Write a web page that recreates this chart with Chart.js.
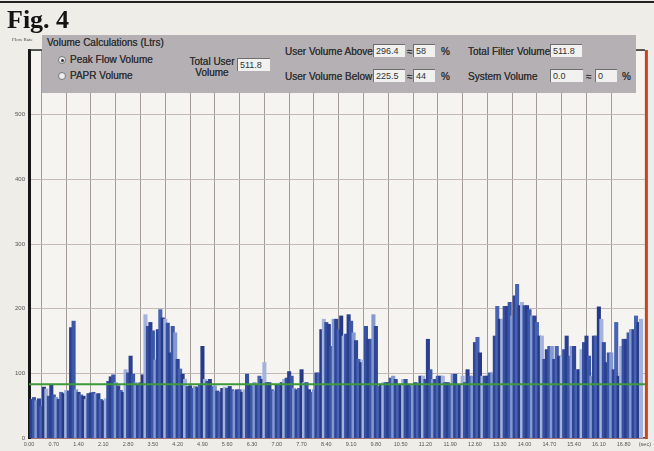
<!DOCTYPE html>
<html lang="en">
<head>
  <meta charset="UTF-8" />
  <title>Fig. 4</title>
  <script src="https://cdn.jsdelivr.net/npm/chart.js"></script>
  <style>
    html, body { margin: 0; padding: 0; }
    body {
      width: 654px;
      height: 451px;
      background: #eeede8;
      position: relative;
      overflow: hidden;
      font-family: 'Liberation Sans', Arial, sans-serif;
    }
    #wrap { position: absolute; left: 0; top: 0; width: 654px; height: 451px; }
    .topline { position: absolute; left: 0; top: 1px; width: 654px; height: 2px; background: #222; }
    .fig {
      position: absolute; left: 7px; top: 7px;
      font-family: 'Liberation Serif', 'DejaVu Serif', serif;
      font-weight: bold; font-size: 26px; color: #141414; line-height: 1;
    }
    .ylab {
      position: absolute; left: 12px; top: 37px;
      font-family: 'Liberation Serif', serif; font-size: 5px; color: #444;
    }
    .panel {
      position: absolute; left: 42px; top: 35px; width: 594px; height: 58px;
      background: #b4b0b3;
    }
    .panel .t {
      position: absolute; font-size: 10px; color: #333; white-space: nowrap; line-height: 10px;
      text-shadow: 0 0 0.4px #333;
    }
    .panel .box {
      position: absolute; height: 13px; background: #f1f1ef;
      border-top: 1px solid #6e6e6e; border-left: 1px solid #6e6e6e;
      font-size: 9px; line-height: 13px; color: #333; padding-left: 2px; box-sizing: border-box;
    }
    .radio {
      position: absolute; width: 6px; height: 6px; border-radius: 50%;
      background: #eee; border: 1px solid #777;
    }
    .radio.on::after {
      content: ''; position: absolute; left: 1.5px; top: 1.5px; width: 3px; height: 3px;
      border-radius: 50%; background: #333;
    }
  </style>
</head>
<body>
  <div id="wrap"><canvas id="flowChart"></canvas></div>
  <div class="topline"></div>
  <div class="fig">Fig. 4</div>
  <div class="ylab">Flow Rate</div>

  <div class="panel">
    <span class="t" style="left:5px; top:3px;">Volume Calculations (Ltrs)</span>
    <div class="radio on" style="left:16px; top:21px;"></div>
    <span class="t" style="left:28px; top:20px;">Peak Flow Volume</span>
    <div class="radio" style="left:16px; top:37px;"></div>
    <span class="t" style="left:28px; top:36px;">PAPR Volume</span>

    <span class="t" style="left:147px; top:21px; width:46px; text-align:center; line-height:11px; white-space:normal;">Total User Volume</span>
    <div class="box" style="left:195px; top:23px; width:33px;">511.8</div>

    <span class="t" style="left:243px; top:12px;">User Volume Above</span>
    <div class="box" style="left:331px; top:9px; width:32px;">296.4</div>
    <span class="t" style="left:365px; top:12px;">≈</span>
    <div class="box" style="left:371px; top:9px; width:22px;">58</div>
    <span class="t" style="left:399px; top:12px;">%</span>

    <span class="t" style="left:243px; top:37px;">User Volume Below</span>
    <div class="box" style="left:331px; top:34px; width:32px;">225.5</div>
    <span class="t" style="left:365px; top:37px;">≈</span>
    <div class="box" style="left:371px; top:34px; width:22px;">44</div>
    <span class="t" style="left:399px; top:37px;">%</span>

    <span class="t" style="left:426px; top:12px;">Total Filter Volume</span>
    <div class="box" style="left:508px; top:9px; width:32px;">511.8</div>

    <span class="t" style="left:426px; top:37px;">System Volume</span>
    <div class="box" style="left:508px; top:34px; width:33px;">0.0</div>
    <span class="t" style="left:544px; top:37px;">≈</span>
    <div class="box" style="left:553px; top:34px; width:22px;">0</div>
    <span class="t" style="left:580px; top:37px;">%</span>
  </div>

  <script>
    // flow rate per 0.07 s sample
    const flowRate = [
      59, 62, 57, 60,   48, 78, 75, 64,   82, 66, 62, 59,   70, 68, 73, 72,
      170, 180, 74, 70, 66, 64, 59, 68,   69, 70, 67, 68,   59, 57, 60, 87,
      94, 97, 85, 80,   73, 70, 105, 100, 126, 98, 85, 82,  85, 97, 190, 172,
      178, 165, 120, 167, 198, 185, 183, 177, 131, 172, 162, 121, 106, 98, 90, 79,
      80, 76, 79, 78,   82, 141, 90, 87,  90, 79, 80, 72,   70, 76, 78, 76,
      79, 74, 72, 74,   74, 70, 74, 98,   82, 80, 85, 82,   95, 90, 116, 85,
      85, 74, 72, 82,   82, 85, 90, 92,   102, 95, 76, 74,  76, 105, 85, 85,
      74, 70, 74, 100,  100, 167, 183, 178, 175, 141, 183, 183, 167, 188, 157, 160,
      190, 180, 162, 150, 121, 116, 120, 172, 152, 152, 190, 172, 79, 82, 85, 85,
      85, 92, 95, 90,   82, 82, 90, 90,   82, 80, 82, 85,   82, 95, 95, 90,
      152, 105, 90, 90, 95, 95, 95, 85,   85, 82, 98, 98,   82, 82, 95, 85,
      105, 95, 95, 147, 155, 131, 95, 95, 95, 100, 100, 157, 203, 183, 183, 203,
      203, 209, 188, 219, 237, 204, 209, 204, 204, 198, 188, 188, 178, 157, 157, 121,
      136, 141, 141, 121, 141, 126, 126, 136, 157, 126, 141, 141, 105, 105, 136, 147,
      157, 126, 95, 157, 157, 202, 183, 147, 116, 131, 131, 105, 178, 95, 141, 152,
      152, 162, 167, 167, 188, 178, 183
    ];
    const SAMPLE_SEC = 0.07;
    const sampleTimes = flowRate.map((_, i) => +(SAMPLE_SEC * (i + 1)).toFixed(2));

    const THRESHOLD = 83;      // green level line
    const X_MAX = 17.4;        // seconds shown
    const X_STEP = 0.7;
    const Y_MAX = 600;
    const Y_STEP = 100;

    const shades = ['#2b3f8e', '#3b58a8', '#8399cf', '#2f4597', '#4763b2', '#263a86', '#a3b3dc', '#3550a0'];

    const framePlugin = {
      id: 'frame',
      beforeDraw(chart) {
        const { ctx, chartArea: a } = chart;
        ctx.save();
        ctx.fillStyle = '#f5f4f0';
        ctx.fillRect(a.left, a.top, a.right - a.left, a.bottom - a.top);
        ctx.restore();
      },
      afterDraw(chart) {
        const { ctx, chartArea: a } = chart;
        ctx.save();
        ctx.strokeStyle = '#2a2a2a';
        ctx.lineWidth = 1.5;
        ctx.beginPath();
        ctx.moveTo(a.left, a.top);
        ctx.lineTo(a.right, a.top);
        ctx.stroke();
        ctx.strokeStyle = '#c9431f';
        ctx.lineWidth = 3;
        ctx.beginPath();
        ctx.moveTo(a.right + 1.5, a.top);
        ctx.lineTo(a.right + 1.5, a.bottom + 1);
        ctx.stroke();
        ctx.restore();
      }
    };

    new Chart(document.getElementById('flowChart'), {
      type: 'bar',
      data: {
        datasets: [
          {
            type: 'line',
            label: 'Threshold',
            data: [{ x: 0, y: THRESHOLD }, { x: X_MAX, y: THRESHOLD }],
            borderColor: '#3d9a3a',
            borderWidth: 2,
            pointRadius: 0,
            order: 0
          },
          {
            label: 'Flow Rate',
            data: flowRate.map((v, i) => ({ x: sampleTimes[i], y: v })),
            backgroundColor: (c) => shades[c.dataIndex % shades.length],
            borderWidth: 0,
            inflateAmount: 0.8,
            barPercentage: 1,
            categoryPercentage: 1,
            order: 1
          }
        ]
      },
      options: {
        responsive: true,
        maintainAspectRatio: false,
        animation: false,
        layout: { padding: { top: 50, right: 6, left: 0, bottom: 0 } },
        plugins: { legend: { display: false }, tooltip: { enabled: false } },
        scales: {
          x: {
            type: 'linear',
            min: 0,
            max: X_MAX,
            offset: false,
            afterFit: (s) => { s.height = 13; },
            border: { color: '#7d3036', width: 1.5 },
            grid: {
              drawTicks: false,
              color: (c) => (c.tick && Math.abs(c.tick.value - X_MAX) < 1e-6) ? 'rgba(0,0,0,0)' : '#a39a9a',
              lineWidth: 1
            },
            ticks: {
              stepSize: X_STEP,
              autoSkip: false,
              maxRotation: 0,
              padding: 3,
              color: '#555',
              font: { size: 5.5, family: 'Liberation Sans' },
              callback: (v) => Math.abs(v - X_MAX) < 1e-6 ? '(sec)' : Number(v).toFixed(2)
            }
          },
          y: {
            min: 0,
            max: Y_MAX,
            afterFit: (s) => { s.width = 29; },
            border: { color: '#161616', width: 3 },
            grid: { drawTicks: false, color: '#c3b7b7', lineWidth: 1 },
            ticks: {
              stepSize: Y_STEP,
              padding: 4,
              color: '#555',
              font: { size: 6, family: 'Liberation Sans' },
              callback: (v) => v === Y_MAX ? '' : v
            }
          }
        }
      },
      plugins: [framePlugin]
    });
  </script>
</body>
</html>
